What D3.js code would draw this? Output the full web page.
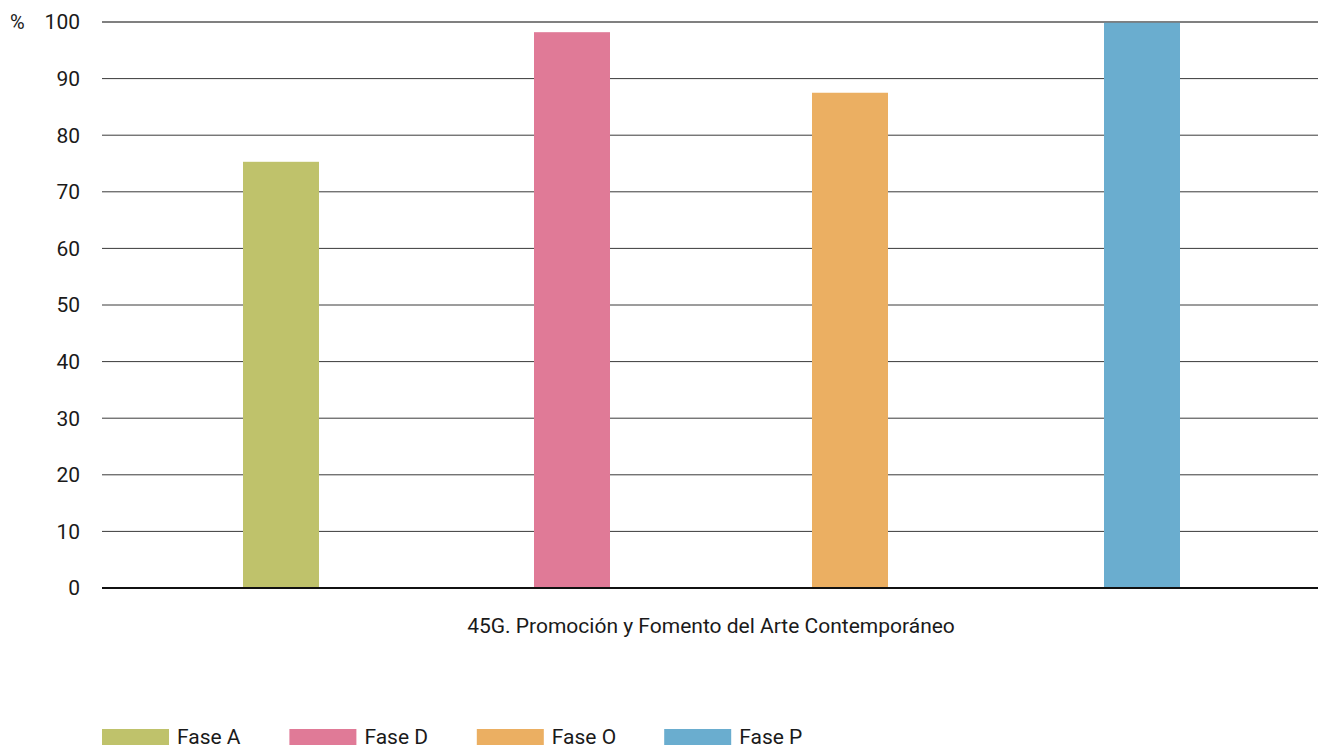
<!DOCTYPE html>
<html><head><meta charset="utf-8">
<script src="https://cdn.jsdelivr.net/npm/d3@7"></script>
<style>
body{margin:0;background:#fff;}
text{font-family:Roboto, "DejaVu Sans", sans-serif;fill:#1a1a1a;}
</style></head>
<body><svg id="c" width="1321" height="749"></svg>
<script>
const phases = ["Fase A","Fase D","Fase O","Fase P"];
const values = [75.3, 98.2, 87.5, 100];
const colors = ["#BFC26B","#E07A97","#EBAF62","#6AADCF"];
const yTicks = [0,10,20,30,40,50,60,70,80,90,100];
const categoryLabel = "45G. Promoción y Fomento del Arte Contemporáneo";
const unitLabel = "%";

(function(){
const svg = d3.select("#c");
const L = 102, R = 1318, T = 22, B = 588;
const y = d3.scaleLinear().domain([0,100]).range([B, T]);
const x = d3.scaleOrdinal().domain(phases).range([281, 572, 850, 1142]);
const bw = 76;

svg.append("g").selectAll("line").data(yTicks.filter(d=>d>0)).join("line")
  .attr("x1", L).attr("x2", R)
  .attr("y1", d=>y(d)).attr("y2", d=>y(d))
  .attr("stroke", "#3a3a3a").attr("stroke-width", 1);

svg.append("g").selectAll("text").data(yTicks).join("text")
  .attr("x", 80).attr("y", d=>y(d)).attr("dy","0.35em")
  .attr("text-anchor","end").attr("font-size",21).text(d=>d);

svg.append("text").attr("x",10).attr("y",y(100)).attr("dy","0.35em")
  .attr("font-size",20).text(unitLabel);

svg.append("g").selectAll("rect").data(phases).join("rect")
  .attr("x", d=>x(d)-bw/2).attr("width", bw)
  .attr("y", (d,i)=>y(values[i])).attr("height",(d,i)=>y(0)-y(values[i]))
  .attr("fill",(d,i)=>colors[i]);

svg.append("line").attr("x1",L).attr("x2",R).attr("y1",y(100)).attr("y2",y(100))
  .attr("stroke","#777").attr("stroke-width",1.5);

svg.append("line").attr("x1",L).attr("x2",R).attr("y1",y(0)).attr("y2",y(0))
  .attr("stroke","#111").attr("stroke-width",1.8);

svg.append("text").attr("x",711).attr("y",633)
  .attr("text-anchor","middle").attr("font-size",21).text(categoryLabel);

const lg = svg.append("g").selectAll("g").data(phases).join("g")
  .attr("transform",(d,i)=>`translate(${102+i*187.4},729)`);
lg.append("rect").attr("width",67).attr("height",16).attr("fill",(d,i)=>colors[i]);
lg.append("text").attr("x",75).attr("y",15).attr("font-size",21).text(d=>d);
})();
</script></body></html>
